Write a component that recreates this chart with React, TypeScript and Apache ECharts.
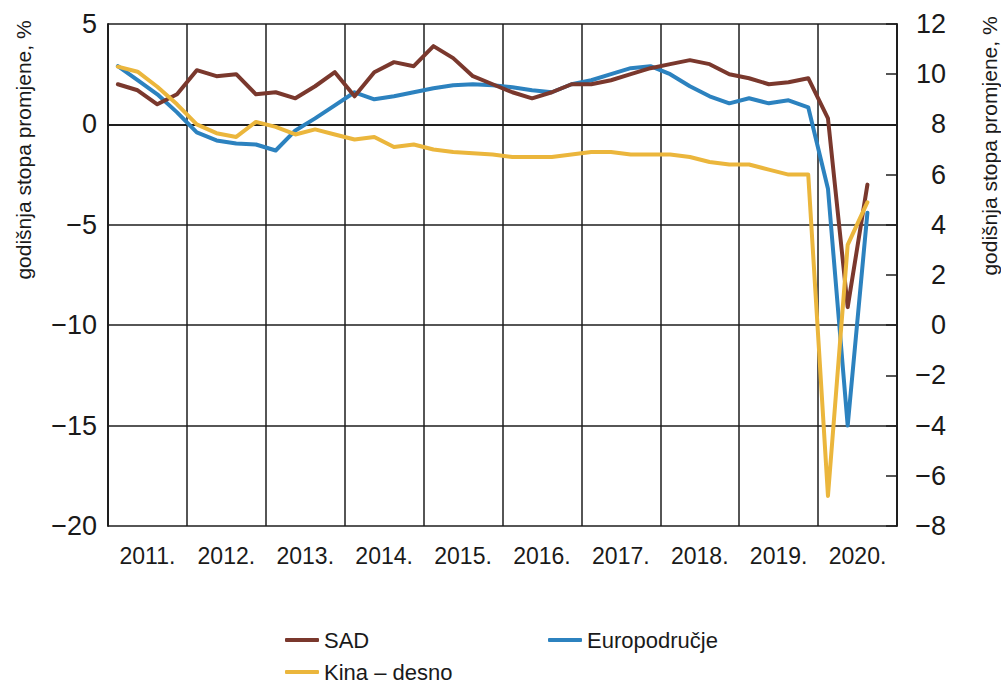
import React, { useEffect, useRef } from 'react';
import * as echarts from 'echarts';

// Year bands on the category axis (labels centred in each year)
const years = ['2011.', '2012.', '2013.', '2014.', '2015.', '2016.', '2017.', '2018.', '2019.', '2020.'];

// Quarterly values 2011Q1 .. 2020Q3 (annual rate of change, %)
const sadValues = [
  2.0, 1.7, 1.0, 1.5,
  2.7, 2.4, 2.5, 1.5,
  1.6, 1.3, 1.9, 2.6,
  1.4, 2.6, 3.1, 2.9,
  3.9, 3.3, 2.4, 2.0,
  1.6, 1.3, 1.6, 2.0,
  2.0, 2.2, 2.5, 2.8,
  3.0, 3.2, 3.0, 2.5,
  2.3, 2.0, 2.1, 2.3,
  0.3, -9.1, -3.0,
];

const euroValues = [
  2.9, 2.2, 1.5, 0.6,
  -0.4, -0.8, -0.95, -1.0,
  -1.3, -0.3, 0.3, 0.95,
  1.6, 1.25, 1.4, 1.6,
  1.8, 1.95, 2.0, 1.95,
  1.85, 1.7, 1.6, 2.0,
  2.2, 2.5, 2.8, 2.9,
  2.5, 1.9, 1.4, 1.05,
  1.3, 1.05, 1.2, 0.85,
  -3.2, -15.0, -4.4,
];

// China – right axis
const kinaValues = [
  10.3, 10.1, 9.5, 8.8,
  8.0, 7.65, 7.5, 8.1,
  7.9, 7.6, 7.8, 7.6,
  7.4, 7.5, 7.1, 7.2,
  7.0, 6.9, 6.85, 6.8,
  6.7, 6.7, 6.7, 6.8,
  6.9, 6.9, 6.8, 6.8,
  6.8, 6.7, 6.5, 6.4,
  6.4, 6.2, 6.0, 6.0,
  -6.8, 3.2, 4.9,
];

const seriesNames = ['SAD', 'Europodručje', 'Kina – desno'];
const axisTitle = 'godišnja stopa promjene, %';

const FONT = '"Liberation Sans", Arial, Helvetica, sans-serif';
const TEXT = '#1a1a1a';
const GRIDC = '#1e1e1e';

const toPoints = (vals: number[]) => vals.map((v, i) => [i + 0.5, v]);

export default function App() {
  const ref = useRef<HTMLDivElement>(null);

  useEffect(() => {
    if (!ref.current) return;
    const chart = echarts.init(ref.current, null, { renderer: 'svg' });
    const lineCommon = {
      type: 'line',
      xAxisIndex: 1,
      showSymbol: false,
      symbol: 'none',
      smooth: false,
    };
    const legendCommon = {
      icon: 'roundRect',
      itemWidth: 34,
      itemHeight: 4,
      textStyle: { fontFamily: FONT, fontSize: 22, color: TEXT },
      selectedMode: false,
    };
    chart.setOption({
      animation: false,
      backgroundColor: '#ffffff',
      textStyle: { fontFamily: FONT },
      grid: { left: 108, right: 104, top: 24, bottom: 160, containLabel: false },
      xAxis: [
        {
          type: 'category',
          data: years,
          boundaryGap: true,
          axisLine: { show: true, lineStyle: { color: GRIDC, width: 2 } },
          axisTick: { show: false },
          splitLine: { show: true, interval: 0, lineStyle: { color: GRIDC, width: 1.5 } },
          axisLabel: { fontFamily: FONT, fontSize: 23, color: TEXT, margin: 18, interval: 0 },
        },
        {
          type: 'value',
          min: 0,
          max: years.length * 4,
          show: false,
        },
      ],
      yAxis: [
        {
          type: 'value',
          min: -20,
          max: 5,
          interval: 5,
          position: 'left',
          axisLine: { show: true, lineStyle: { color: GRIDC, width: 2 } },
          axisTick: { show: false },
          splitLine: { show: true, lineStyle: { color: GRIDC, width: 1.5 } },
          axisLabel: {
            fontFamily: FONT,
            fontSize: 27,
            color: TEXT,
            margin: 11,
            formatter: (v: number) => (v < 0 ? '\u2212' + Math.abs(v) : String(v)),
          },
        },
        {
          type: 'value',
          min: -8,
          max: 12,
          interval: 2,
          position: 'right',
          axisLine: { show: true, lineStyle: { color: GRIDC, width: 2 } },
          axisTick: { show: true, inside: true, length: 11, lineStyle: { color: GRIDC, width: 1.5 } },
          splitLine: { show: false },
          axisLabel: {
            fontFamily: FONT,
            fontSize: 27,
            color: TEXT,
            margin: 49,
            align: 'right',
            formatter: (v: number) => (v < 0 ? '\u2212' + Math.abs(v) : String(v)),
          },
        },
      ],
      legend: [
        { ...legendCommon, data: [seriesNames[0]], left: 280, top: 624 },
        { ...legendCommon, data: [seriesNames[1]], left: 543, top: 624 },
        { ...legendCommon, data: [seriesNames[2]], left: 280, top: 656 },
      ],
      graphic: [
        {
          type: 'text',
          x: 23,
          y: 150,
          rotation: Math.PI / 2,
          style: {
            text: axisTitle,
            fontFamily: FONT,
            fontSize: 21,
            fill: TEXT,
            align: 'center',
            verticalAlign: 'middle',
          },
        },
        {
          type: 'text',
          x: 989,
          y: 146,
          rotation: Math.PI / 2,
          style: {
            text: axisTitle,
            fontFamily: FONT,
            fontSize: 21,
            fill: TEXT,
            align: 'center',
            verticalAlign: 'middle',
          },
        },
      ],
      series: [
        {
          ...lineCommon,
          name: seriesNames[1],
          yAxisIndex: 0,
          data: toPoints(euroValues),
          itemStyle: { color: '#2c82bf' },
          lineStyle: { color: '#2c82bf', width: 4, cap: 'round', join: 'round' },
          z: 3,
        },
        {
          ...lineCommon,
          name: seriesNames[0],
          yAxisIndex: 0,
          data: toPoints(sadValues),
          itemStyle: { color: '#7a382d' },
          lineStyle: { color: '#7a382d', width: 4, cap: 'round', join: 'round' },
          z: 4,
        },
        {
          ...lineCommon,
          name: seriesNames[2],
          yAxisIndex: 1,
          data: toPoints(kinaValues),
          itemStyle: { color: '#ebb63c' },
          lineStyle: { color: '#ebb63c', width: 4, cap: 'round', join: 'round' },
          z: 5,
        },
      ],
    });
    return () => chart.dispose();
  }, []);

  return (
    <div
      ref={ref}
      style={{ width: 1001, height: 686, position: 'absolute', left: 0, top: 0 }}
    />
  );
}
